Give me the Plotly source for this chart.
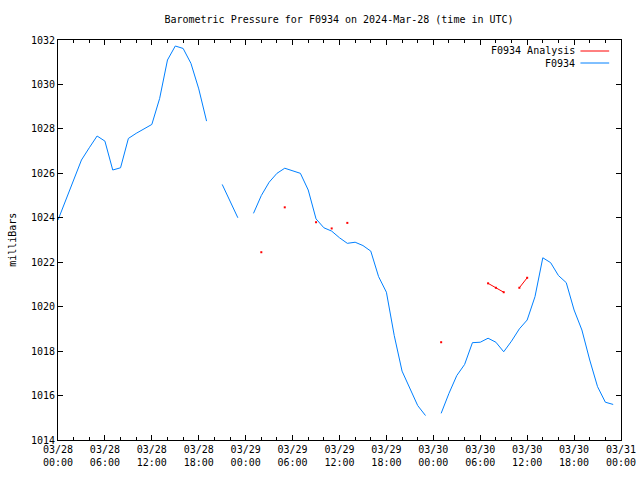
import pandas as pd
import plotly.graph_objects as go

start_time = "2024-03-28 00:00"
n_hours = 72

# hourly station pressure (mb), None = missing
pressure = [
    1023.9, 1024.8, 1025.7, 1026.6, 1027.15, 1027.68, 1027.45, 1026.15, 1026.25, 1027.57, 1027.8, 1028.0,
    1028.2, 1029.37, 1031.1, 1031.73, 1031.62, 1030.95, 1029.8, 1028.35, None, 1025.5, 1024.75, 1024.0,
    None, 1024.2, 1025.0, 1025.6, 1026.0, 1026.23, 1026.12, 1026.0, 1025.25, 1023.95, 1023.55, 1023.4,
    1023.1, 1022.85, 1022.9, 1022.75, 1022.5, 1021.35, 1020.65, 1018.7, 1017.1, 1016.3, 1015.55, 1015.1,
    None, 1015.2, 1016.1, 1016.9, 1017.4, 1018.38, 1018.4, 1018.58, 1018.4, 1017.97, 1018.45, 1019.0,
    1019.4, 1020.45, 1022.2, 1021.98, 1021.4, 1021.08, 1019.85, 1018.95, 1017.6, 1016.4, 1015.7, 1015.6,
]

# hourly analysis pressure (mb), None = missing
analysis = [
    None, None, None, None, None, None, None, None, None, None, None, None,
    None, None, None, None, None, None, None, None, None, None, None, None,
    None, None, 1022.45, None, None, 1024.47, None, None, None, 1023.8, None, 1023.52,
    None, 1023.77, None, None, None, None, None, None, None, None, None, None,
    None, 1018.4, None, None, None, None, None, 1021.05, 1020.85, 1020.65, None, 1020.85,
    1021.3, None, None, None, None, None, None, None, None, None, None, None,
]

series_names = ["F0934 Analysis", "F0934"]
series_colors = ["#ff0000", "#0080ff"]

times = pd.date_range(start_time, periods=n_hours, freq="h")

FONT = "DejaVu Sans Mono"

fig = go.Figure()
fig.add_trace(go.Scatter(
    x=times, y=analysis, name=series_names[0], mode="lines+markers",
    line=dict(color=series_colors[0], width=1),
    marker=dict(color=series_colors[0], size=2, symbol="square"),
    showlegend=False,
))
fig.add_trace(go.Scatter(
    x=times, y=pressure, name=series_names[1], mode="lines",
    line=dict(color=series_colors[1], width=1),
    showlegend=False,
))

# gnuplot-style legend: right-aligned text with line sample to its right
legend_y = [0.9725, 0.9425]
for name, color, ly in zip(series_names, series_colors, legend_y):
    fig.add_annotation(
        x=0.921, y=ly, xref="paper", yref="paper", text=name, showarrow=False,
        xanchor="right", yanchor="middle", font=dict(family=FONT, size=10, color="black"),
    )
    fig.add_shape(
        type="line", xref="paper", yref="paper", x0=0.928, x1=0.979, y0=ly, y1=ly,
        line=dict(color=color, width=1),
    )

fig.add_annotation(
    x=-0.082, y=0.5, xref="paper", yref="paper", text="milliBars", showarrow=False,
    textangle=-90, xanchor="center", yanchor="middle",
    font=dict(family=FONT, size=10, color="black"),
)

fig.update_layout(
    width=640, height=480,
    margin=dict(l=58, r=19, t=40, b=40, autoexpand=False),
    paper_bgcolor="white", plot_bgcolor="white",
    font=dict(family=FONT, size=10, color="black"),
    title=dict(
        text="Barometric Pressure for F0934 on 2024-Mar-28 (time in UTC)",
        x=0.5297, xanchor="center", y=0.9604, yanchor="middle",
        font=dict(family=FONT, size=10, color="black"),
    ),
)

fig.update_xaxes(
    type="date", automargin=False,
    range=["2024-03-28 00:00", "2024-03-31 00:00"],
    tick0="2024-03-28 00:00", dtick=6 * 3600 * 1000,
    tickformat="%m/%d<br>%H:%M",
    ticks="inside", ticklen=5, tickcolor="black", tickwidth=1,
    minor=dict(ticks="inside", ticklen=3, dtick=2 * 3600 * 1000, tickcolor="black", showgrid=False),
    showgrid=False, zeroline=False,
    showline=True, linecolor="black", linewidth=1, mirror="allticks",
    tickfont=dict(family=FONT, size=10, color="black"),
)
fig.update_yaxes(
    automargin=False,
    range=[1014, 1032], dtick=2, tick0=1014,
    ticks="inside", ticklen=5, tickcolor="black", tickwidth=1,
    showgrid=False, zeroline=False,
    showline=True, linecolor="black", linewidth=1, mirror="allticks",
    tickfont=dict(family=FONT, size=10, color="black"),
)

fig.write_html(
    "out.html",
    config={"displayModeBar": False},
    post_script="document.body.style.margin='0';document.body.style.overflow='hidden';",
)
